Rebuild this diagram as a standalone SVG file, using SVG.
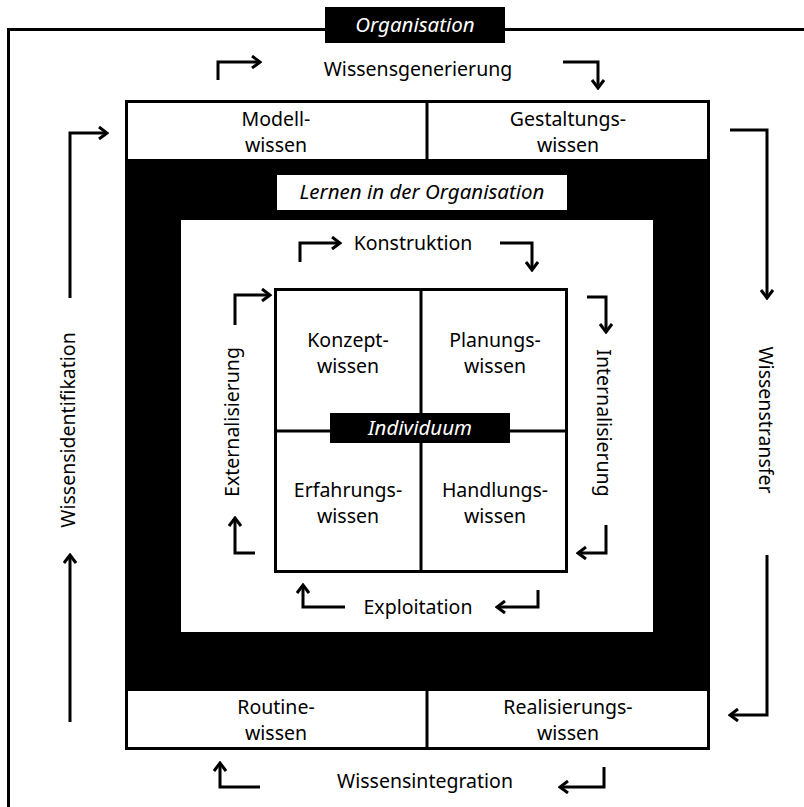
<svg xmlns="http://www.w3.org/2000/svg" width="804" height="807" viewBox="0 0 804 807">
<style>
.t{font-family:"Noto Sans","Open Sans",sans-serif;font-size:19.5px;fill:#000;text-anchor:middle}
.i{font-style:italic;font-size:20.5px}
.w{fill:#fff}
.ln{fill:none;stroke:#000;stroke-width:3}
.ar{fill:none;stroke:#000;stroke-width:3;marker-end:url(#ah)}
</style>
<defs>
<marker id="ah" markerUnits="userSpaceOnUse" markerWidth="14" markerHeight="14" viewBox="0 0 14 14" refX="12" refY="7" orient="auto">
<path d="M4,1 L12,7 L4,13" fill="none" stroke="#000" stroke-width="3"/>
</marker>
</defs>
<rect width="804" height="807" fill="#fff"/>
<g id="organisation">
<path class="ln" d="M8.5,807 V29.5 H804"/>
<rect x="325" y="7" width="180" height="36" fill="#000"/>
<text class="t i w" x="415" y="32">Organisation</text>
</g>
<g id="wissensbox">
<rect x="125" y="160" width="585" height="530" fill="#000"/>
<rect class="ln" x="126.5" y="101.5" width="582" height="59" fill="#fff"/>
<line class="ln" x1="427" y1="101" x2="427" y2="160"/>
<rect class="ln" x="126.5" y="689.5" width="582" height="59" fill="#fff"/>
<line class="ln" x1="427" y1="690" x2="427" y2="749"/>
</g>
<g id="modellwissen"><text class="t" x="276" y="126">Modell-</text><text class="t" x="276" y="152">wissen</text></g>
<g id="gestaltungswissen"><text class="t" x="568" y="126">Gestaltungs-</text><text class="t" x="568" y="152">wissen</text></g>
<g id="routinewissen"><text class="t" x="276" y="714">Routine-</text><text class="t" x="276" y="740">wissen</text></g>
<g id="realisierungswissen"><text class="t" x="568" y="714">Realisierungs-</text><text class="t" x="568" y="740">wissen</text></g>
<g id="lernen">
<rect x="277" y="175" width="290" height="35" fill="#fff"/>
<text class="t i" x="422" y="199">Lernen in der Organisation</text>
</g>
<g id="innen">
<rect x="181" y="220" width="472" height="412" fill="#fff"/>
<rect class="ln" x="275.5" y="289.5" width="291" height="282" fill="#fff"/>
<line class="ln" x1="421" y1="289" x2="421" y2="572"/>
<line class="ln" x1="275" y1="431" x2="567" y2="431"/>
</g>
<g id="konzeptwissen"><text class="t" x="348" y="347">Konzept-</text><text class="t" x="348" y="373">wissen</text></g>
<g id="planungswissen"><text class="t" x="495" y="347">Planungs-</text><text class="t" x="495" y="373">wissen</text></g>
<g id="erfahrungswissen"><text class="t" x="348" y="497">Erfahrungs-</text><text class="t" x="348" y="523">wissen</text></g>
<g id="handlungswissen"><text class="t" x="495" y="497">Handlungs-</text><text class="t" x="495" y="523">wissen</text></g>
<g id="individuum">
<rect x="330" y="413" width="180" height="30" fill="#000"/>
<text class="t i w" x="420" y="435">Individuum</text>
</g>
<g id="labels">
<text class="t" x="418" y="76">Wissensgenerierung</text>
<text class="t" x="425" y="788">Wissensintegration</text>
<text class="t" x="413" y="250">Konstruktion</text>
<text class="t" x="418" y="614">Exploitation</text>
<text class="t" transform="translate(239,422) rotate(-90)">Externalisierung</text>
<text class="t" transform="translate(597,423) rotate(90)">Internalisierung</text>
<text class="t" transform="translate(75,430) rotate(-90)">Wissensidentifikation</text>
<text class="t" transform="translate(759,420) rotate(90)">Wissenstransfer</text>
</g>
<g id="connectors">
<path class="ar" d="M218,80 V62 H260"/>
<path class="ar" d="M563,62 H598 V88"/>
<path class="ar" d="M70,298 V133 H107"/>
<path class="ar" d="M70,722 V555"/>
<path class="ar" d="M730,130 H767 V298"/>
<path class="ar" d="M767,555 V715 H730"/>
<path class="ar" d="M260,787 H220 V763"/>
<path class="ar" d="M604,767 V787 H560"/>
<path class="ar" d="M300,262 V243 H340"/>
<path class="ar" d="M500,243 H532 V270"/>
<path class="ar" d="M235,325 V295 H270"/>
<path class="ar" d="M255,553 H235 V518"/>
<path class="ar" d="M587,297 H606 V332"/>
<path class="ar" d="M606,525 V553 H578"/>
<path class="ar" d="M345,607 H303 V585"/>
<path class="ar" d="M538,590 V607 H497"/>
</g>
</svg>
